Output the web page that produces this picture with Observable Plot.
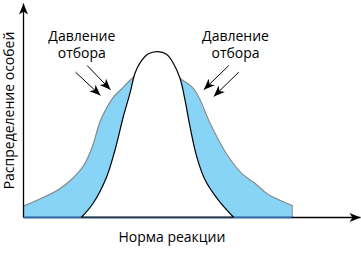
<!DOCTYPE html>
<html>
<head>
<meta charset="utf-8">
<script src="https://cdn.jsdelivr.net/npm/d3@7"></script>
<script src="https://cdn.jsdelivr.net/npm/@observablehq/plot@0.6"></script>
<style>
  html, body { margin: 0; padding: 0; background: #fff; }
</style>
</head>
<body>
<div id="chart"></div>
<script>
// Wide distribution (before selection): trait value vs. relative frequency
const wideX = [-4.0, -3.496, -3.0, -2.605, -2.211, -1.961, -1.715, -1.516, -1.329, -1.033, -0.736, -0.35, 0.0, 0.33, 0.659, 1.006, 1.202, 1.499, 1.795, 2.092, 2.49, 2.884, 3.231, 3.626, 3.973];
const wideY = [0.069, 0.114, 0.164, 0.225, 0.316, 0.427, 0.589, 0.670, 0.731, 0.792, 0.852, 0.90, 0.915, 0.895, 0.843, 0.792, 0.731, 0.589, 0.468, 0.366, 0.265, 0.205, 0.144, 0.103, 0.073];

// Narrow distribution (after stabilizing selection)
const narrowX = [-2.258, -1.914, -1.516, -1.27, -1.024, -0.825, -0.677, -0.528, -0.291, 0.0, 0.26, 0.46, 0.659, 0.807, 0.955, 1.154, 1.404, 1.798, 2.243];
const narrowY = [0.0, 0.085, 0.245, 0.407, 0.609, 0.752, 0.873, 0.936, 0.99, 1.005, 0.988, 0.934, 0.843, 0.711, 0.549, 0.367, 0.225, 0.103, 0.0];

// "Selection pressure" pointers: start and tip of each
const arrowX1 = [-2.457, -2.110, 2.092, 2.389];
const arrowY1 = [0.883, 0.923, 0.923, 0.883];
const arrowX2 = [-1.715, -1.418, 1.350, 1.647];
const arrowY2 = [0.741, 0.776, 0.776, 0.735];

// Annotation labels
const labelText = ["Давление\nотбора", "Давление\nотбора"];
const labelX = [-2.27, 2.291];
const labelY = [1.056, 1.056];

// Axis titles
const xTitle = "Норма реакции";
const yTitle = "Распределение особей";

const wide = wideX.map((x, i) => ({x, y: wideY[i]}));
const narrow = narrowX.map((x, i) => ({x, y: narrowY[i]}));
const pointers = arrowX1.map((x1, i) => ({x1, y1: arrowY1[i], x2: arrowX2[i], y2: arrowY2[i]}));
const labels = labelText.map((text, i) => ({text, x: labelX[i], y: labelY[i]}));
const wideEnd = wide[wide.length - 1];

// Filled dart-shaped arrowhead
function dart(color) {
  const m = d3.create("svg:marker")
    .attr("viewBox", "-12 -6 12 12")
    .attr("markerWidth", 12)
    .attr("markerHeight", 12)
    .attr("markerUnits", "userSpaceOnUse")
    .attr("orient", "auto")
    .attr("refX", 0)
    .attr("refY", 0)
    .attr("fill", color)
    .attr("stroke", "none");
  m.append("path").attr("d", "M0,0L-11,-4.5L-8,0L-11,4.5Z");
  return m.node();
}

const chart = Plot.plot({
  width: 361,
  height: 254,
  marginLeft: 23,
  marginRight: 1,
  marginTop: 3,
  marginBottom: 37,
  x: {domain: [-4, 6], axis: null},
  y: {domain: [0, 1.3], axis: null},
  style: {fontFamily: "'Open Sans', sans-serif", fontSize: "14px", background: "#fff", color: "#000"},
  marks: [
    Plot.areaY(wide, {x: "x", y: "y", fill: "#87d4f7", curve: "catmull-rom"}),
    Plot.line(wide, {x: "x", y: "y", stroke: "#8c8c8c", strokeWidth: 1.2, curve: "catmull-rom"}),
    Plot.ruleX([wideEnd], {x: "x", y1: 0, y2: "y", stroke: "#8c8c8c", strokeWidth: 1.2}),
    // axes with arrowheads
    Plot.link([{x1: -4, y1: 0, x2: 6, y2: 0}, {x1: -4, y1: 0, x2: -4, y2: 1.3}], {
      x1: "x1", y1: "y1", x2: "x2", y2: "y2", stroke: "#000", strokeWidth: 1.3, markerEnd: dart
    }),
    Plot.ruleY([0], {x1: -3.98, x2: wideEnd.x, stroke: "#2a6fb8", strokeWidth: 1.3}),
    Plot.areaY(narrow, {x: "x", y: "y", fill: "#fff", stroke: "#000", strokeWidth: 1.2, curve: "catmull-rom"}),
    Plot.link(pointers, {x1: "x1", y1: "y1", x2: "x2", y2: "y2", stroke: "#000", strokeWidth: 1, markerEnd: dart}),
    Plot.text(labels, {x: "x", y: "y", text: "text", fontSize: 14, lineHeight: 1.25, textAnchor: "middle", lineAnchor: "middle", fill: "#000"}),
    Plot.text([xTitle], {x: 0.404, y: -0.15, text: d => d, fontSize: 14, lineAnchor: "bottom", textAnchor: "middle", fill: "#000"}),
    Plot.text([yTitle], {x: -4.27, y: 0.65, text: d => d, fontSize: 14, rotate: -90, lineAnchor: "bottom", textAnchor: "middle", fill: "#000"})
  ]
});

document.getElementById("chart").append(chart);
</script>
</body>
</html>
